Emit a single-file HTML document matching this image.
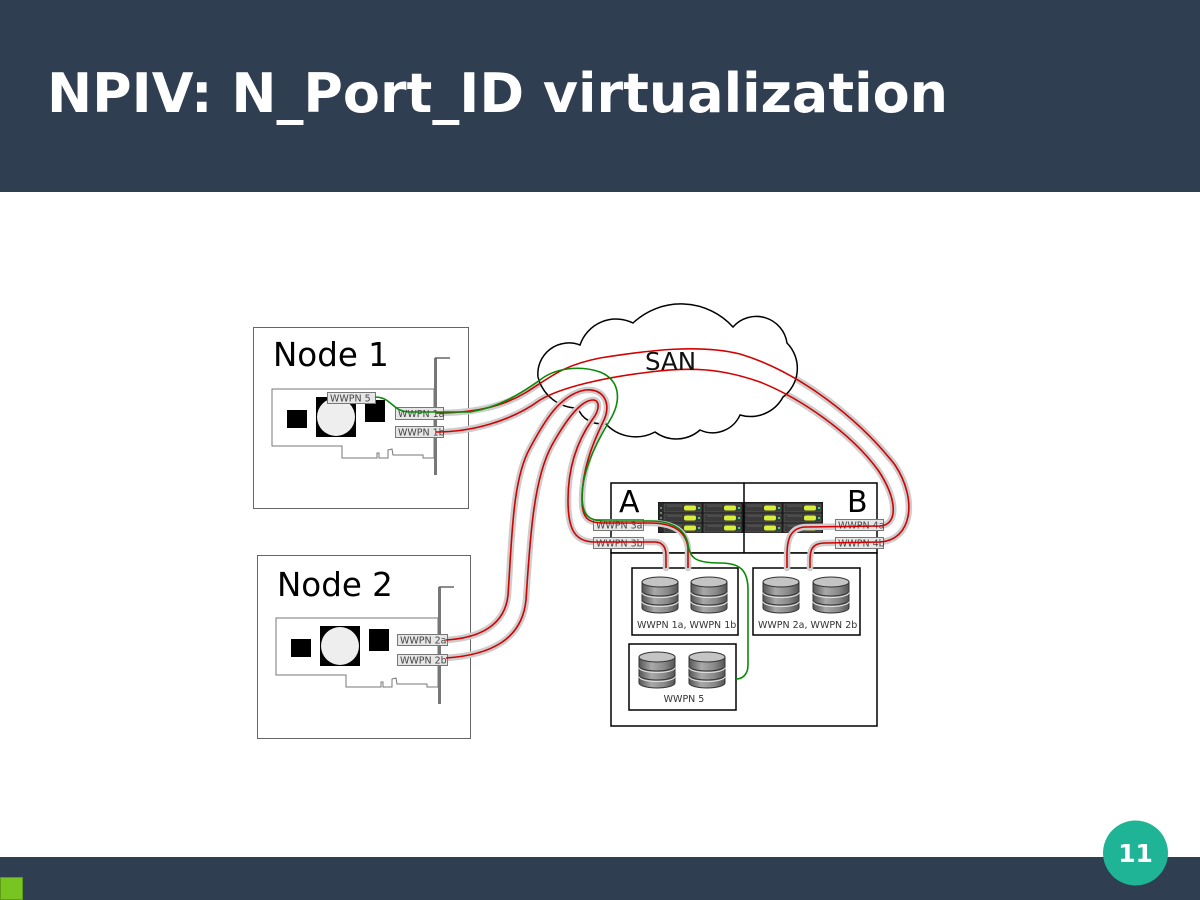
<!DOCTYPE html>
<html>
<head>
<meta charset="utf-8">
<style>
  html, body { margin: 0; padding: 0; background: #ffffff; }
  svg { display: block; }
  text { font-family: "DejaVu Sans", "Liberation Sans", sans-serif; }
</style>
</head>
<body>
<svg width="1200" height="900" viewBox="0 0 1200 900" xmlns="http://www.w3.org/2000/svg">
  <defs>
    <linearGradient id="dg" x1="0" y1="0" x2="1" y2="0">
      <stop offset="0" stop-color="#555"/>
      <stop offset="0.35" stop-color="#a9a9a9"/>
      <stop offset="0.7" stop-color="#8a8a8a"/>
      <stop offset="1" stop-color="#555"/>
    </linearGradient>
    <g id="disk">
      <path d="M0,5 L0,31 A18,5 0 0 0 36,31 L36,5 Z" fill="url(#dg)" stroke="#333" stroke-width="1"/>
      <path d="M0,15.5 A18,5 0 0 0 36,15.5" fill="none" stroke="#ddd" stroke-width="1.2"/>
      <path d="M0,14 A18,5 0 0 0 36,14" fill="none" stroke="#333" stroke-width="1"/>
      <path d="M0,24.5 A18,5 0 0 0 36,24.5" fill="none" stroke="#ddd" stroke-width="1.2"/>
      <path d="M0,23 A18,5 0 0 0 36,23" fill="none" stroke="#333" stroke-width="1"/>
      <ellipse cx="18" cy="5" rx="18" ry="5" fill="#c4c4c4" stroke="#333" stroke-width="1"/>
    </g>
    <g id="card">
      <path d="M272,389 L434,389 L434,458 L423,458 L423,455 L403,455 L393,455 L392,449 L388,450 L388,458 L379,458 L379,453 L377,453 L377,458 L342,458 L342,446 L272,446 Z" fill="#fff" stroke="#777" stroke-width="1"/>
      <rect x="287" y="410" width="20" height="18" fill="#000"/>
      <rect x="316" y="397" width="40" height="40" fill="#000"/>
      <circle cx="336" cy="417" r="19" fill="#eeeeee"/>
      <rect x="365" y="400" width="20" height="22" fill="#000"/>
      <line x1="435.5" y1="358" x2="435.5" y2="475" stroke="#777" stroke-width="3"/>
      <line x1="435" y1="358" x2="450" y2="358" stroke="#666" stroke-width="1.5"/>
    </g>
  </defs>

  <!-- header -->
  <rect x="0" y="0" width="1200" height="192" fill="#2f3e50"/>
  <text x="47" y="112" font-size="54" font-weight="bold" fill="#ffffff" textLength="901" lengthAdjust="spacingAndGlyphs">NPIV: N_Port_ID virtualization</text>

  <!-- footer -->
  <rect x="0" y="857" width="1200" height="43" fill="#2f3e50"/>
  <rect x="0.5" y="877.5" width="22" height="22" fill="#78c521" stroke="#5d9c14" stroke-width="1"/>
  <circle cx="1135.5" cy="853" r="32.5" fill="#1fb496"/>
  <text x="1135.5" y="862" font-size="25" font-weight="bold" fill="#ffffff" text-anchor="middle">11</text>

  <!-- Node boxes -->
  <rect x="253.5" y="327.5" width="215" height="181" fill="#fff" stroke="#666" stroke-width="1"/>
  <rect x="257.5" y="555.5" width="213" height="183" fill="#fff" stroke="#666" stroke-width="1"/>
  <use href="#card"/>
  <use href="#card" transform="translate(4,229)"/>

  <!-- Storage -->
  <rect x="611" y="483" width="266" height="70" fill="#fff" stroke="#000" stroke-width="1.5"/>
  <rect x="611" y="553" width="266" height="173" fill="#fff" stroke="#000" stroke-width="1.5"/>

  <!-- server image -->
  <g>
    <rect x="658" y="502" width="165" height="31" fill="#1c1c1c"/>
    <rect x="659" y="503" width="4" height="29" fill="#2a2a2a"/>
    <circle cx="661" cy="508" r="0.9" fill="#9c9"/>
    <circle cx="661" cy="513" r="0.9" fill="#9c9"/>
    <circle cx="661" cy="518" r="0.9" fill="#9c9"/>
    <g id="mod">
      <rect x="664" y="504" width="37" height="8" fill="#3a3a3a" stroke="#666" stroke-width="0.6"/>
      <rect x="664" y="514" width="37" height="8" fill="#3a3a3a" stroke="#666" stroke-width="0.6"/>
      <rect x="664" y="524" width="37" height="8" fill="#3a3a3a" stroke="#666" stroke-width="0.6"/>
      <line x1="667" y1="506" x2="682" y2="506" stroke="#777" stroke-width="0.6"/>
      <line x1="667" y1="516" x2="682" y2="516" stroke="#777" stroke-width="0.6"/>
      <line x1="667" y1="526" x2="682" y2="526" stroke="#777" stroke-width="0.6"/>
      <rect x="684" y="505.5" width="12" height="5" rx="2" fill="#d8ef3c"/>
      <rect x="684" y="515.5" width="12" height="5" rx="2" fill="#d8ef3c"/>
      <rect x="684" y="525.5" width="12" height="5" rx="2" fill="#d8ef3c"/>
      <rect x="698" y="507" width="2" height="2" fill="#33dd55"/>
      <rect x="698" y="517" width="2" height="2" fill="#33dd55"/>
      <rect x="698" y="527" width="2" height="2" fill="#33dd55"/>
    </g>
    <use href="#mod" transform="translate(40,0)"/>
    <use href="#mod" transform="translate(80,0)"/>
    <use href="#mod" transform="translate(120,0)"/>
  </g>
  <line x1="744" y1="483" x2="744" y2="553" stroke="#000" stroke-width="1.5"/>

  <!-- disk groups -->
  <rect x="632" y="568" width="106" height="67" fill="#fff" stroke="#000" stroke-width="1.5"/>
  <rect x="753" y="568" width="107" height="67" fill="#fff" stroke="#000" stroke-width="1.5"/>
  <rect x="629" y="644" width="107" height="66" fill="#fff" stroke="#000" stroke-width="1.5"/>
  <use href="#disk" x="642" y="577"/>
  <use href="#disk" x="691" y="577"/>
  <use href="#disk" x="763" y="577"/>
  <use href="#disk" x="813" y="577"/>
  <use href="#disk" x="639" y="652"/>
  <use href="#disk" x="689" y="652"/>
  <text x="637" y="628" font-size="9.5" fill="#333">WWPN 1a, WWPN 1b</text>
  <text x="758" y="628" font-size="9.5" fill="#333">WWPN 2a, WWPN 2b</text>
  <text x="684" y="702" font-size="9.5" fill="#333" text-anchor="middle">WWPN 5</text>

  <!-- halos for SAN-crossing cables -->
  <g fill="none" stroke="#cdcdcd" stroke-width="6.5" stroke-linecap="round">
    <path d="M436,413 C470,413 500,408 525,393 S560,366 600,358 C650,350 700,344 740,354 C800,372 860,420 895,465 C918,500 912,540 880,542 L825,543 C812,543 810,550 810,560 L810,568"/>
    <path d="M436,432 C470,432 510,422 540,400 C560,388 600,378 650,372 C690,367 720,368 760,382 C800,398 850,432 878,470 C898,500 898,525 880,526 L805,527 C790,528 787,540 787,555 L787,568"/>
  </g>

  <!-- SAN cloud -->
  <path d="M538,377 A31,31 0 0 1 580,345 A38,38 0 0 1 633,323 A70,70 0 0 1 733,327 A31,31 0 0 1 787,343 A36,36 0 0 1 783,397 A37,37 0 0 1 740,415 A30,30 0 0 1 700,430 A36,36 0 0 1 655,432 A41,41 0 0 1 605,423 A23,23 0 0 1 578,408 A41,41 0 0 1 538,377 Z" fill="#fff" stroke="#000" stroke-width="1.5"/>

  <!-- halos for node2 cables -->
  <g fill="none" stroke="#cdcdcd" stroke-width="6.5" stroke-linecap="round">
    <path d="M446,640 C480,638 505,625 508,595 C512,540 512,480 530,448 C545,420 560,395 585,390 C605,388 612,405 603,422 C592,445 582,470 582,500 C582,518 588,523 603,523 L650,523 C672,523 686,530 688,548 L688,568"/>
    <path d="M446,658 C490,655 522,640 526,600 C530,540 533,480 552,445 C565,422 580,400 593,400 C600,400 600,410 592,420 C578,440 568,465 568,500 C568,530 575,542 595,542 L655,542 C663,542 666,548 666,555 L666,568"/>
  </g>

  <!-- port labels -->
  <g font-size="9.5" fill="#444">
    <svg x="327" y="392" width="49" height="12"><rect x="0.5" y="0.5" width="48" height="11" fill="#e6e6e6" stroke="#777"/><text x="3" y="9.5">WWPN 5</text></svg>
    <svg x="395" y="407" width="49" height="13"><rect x="0.5" y="0.5" width="48" height="12" fill="#e6e6e6" stroke="#777"/><text x="3" y="10">WWPN 1a</text></svg>
    <svg x="395" y="426" width="49" height="12"><rect x="0.5" y="0.5" width="48" height="11" fill="#e6e6e6" stroke="#777"/><text x="3" y="9.5">WWPN 1b</text></svg>
    <svg x="397" y="634" width="51" height="12"><rect x="0.5" y="0.5" width="50" height="11" fill="#e6e6e6" stroke="#777"/><text x="3" y="9.5">WWPN 2a</text></svg>
    <svg x="397" y="654" width="51" height="12"><rect x="0.5" y="0.5" width="50" height="11" fill="#e6e6e6" stroke="#777"/><text x="3" y="9.5">WWPN 2b</text></svg>
    <svg x="593" y="519" width="51" height="12"><rect x="0.5" y="0.5" width="50" height="11" fill="#e6e6e6" stroke="#777"/><text x="3" y="9.5">WWPN 3a</text></svg>
    <svg x="593" y="537" width="51" height="12"><rect x="0.5" y="0.5" width="50" height="11" fill="#e6e6e6" stroke="#777"/><text x="3" y="9.5">WWPN 3b</text></svg>
    <svg x="835" y="519" width="49" height="12"><rect x="0.5" y="0.5" width="48" height="11" fill="#e6e6e6" stroke="#777"/><text x="3" y="9.5">WWPN 4a</text></svg>
    <svg x="835" y="537" width="49" height="12"><rect x="0.5" y="0.5" width="48" height="11" fill="#e6e6e6" stroke="#777"/><text x="3" y="9.5">WWPN 4b</text></svg>
  </g>

  <!-- red cables -->
  <g fill="none" stroke="#d40000" stroke-width="1.6">
    <path d="M436,413 C470,413 500,408 525,393 S560,366 600,358 C650,350 700,344 740,354 C800,372 860,420 895,465 C918,500 912,540 880,542 L825,543 C812,543 810,550 810,560 L810,568"/>
    <path d="M436,432 C470,432 510,422 540,400 C560,388 600,378 650,372 C690,367 720,368 760,382 C800,398 850,432 878,470 C898,500 898,525 880,526 L805,527 C790,528 787,540 787,555 L787,568"/>
    <path d="M446,640 C480,638 505,625 508,595 C512,540 512,480 530,448 C545,420 560,395 585,390 C605,388 612,405 603,422 C592,445 582,470 582,500 C582,518 588,523 603,523 L650,523 C672,523 686,530 688,548 L688,568"/>
    <path d="M446,658 C490,655 522,640 526,600 C530,540 533,480 552,445 C565,422 580,400 593,400 C600,400 600,410 592,420 C578,440 568,465 568,500 C568,530 575,542 595,542 L655,542 C663,542 666,548 666,555 L666,568"/>
  </g>
  <!-- green path -->
  <path d="M375,397 C392,397 392,412 410,412 L470,412 C500,407 520,394 540,380 C555,368 580,365 600,372 C620,380 622,400 610,420 C595,445 583,470 582,495 C582,515 588,521 605,521 L650,521 C672,521 685,529 688,544 C690,558 695,563 720,563 C740,563 748,570 748,590 L748,665 C748,675 742,679 736,679" fill="none" stroke="#0a8a0a" stroke-width="1.6"/>

  <!-- big labels -->
  <text x="645" y="370" font-size="24.5" fill="#111">SAN</text>
  <text x="273" y="366" font-size="32.5" fill="#000">Node 1</text>
  <text x="277" y="596" font-size="32.5" fill="#000">Node 2</text>
  <text x="619" y="512" font-size="30" fill="#000">A</text>
  <text x="847" y="512" font-size="30" fill="#000">B</text>
</svg>
</body>
</html>
